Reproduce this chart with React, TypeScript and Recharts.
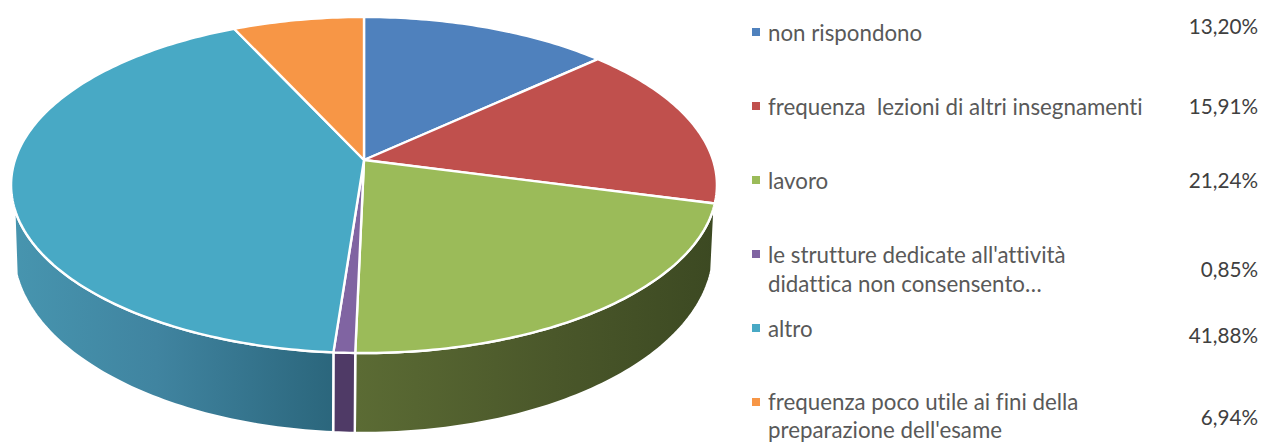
import { PieChart, Pie } from "recharts";

const categories = [
  ["non rispondono"],
  ["frequenza  lezioni di altri insegnamenti"],
  ["lavoro"],
  ["le strutture dedicate all'attività", "didattica non consensento…"],
  ["altro"],
  ["frequenza poco utile ai fini della", "preparazione dell'esame"],
];
const values = [13.2, 15.91, 21.24, 0.85, 41.88, 6.94];
const percentLabels = ["13,20%", "15,91%", "21,24%", "0,85%", "41,88%", "6,94%"];
const topColors = ["#4f81bd", "#c0504d", "#9bbb59", "#8064a2", "#48a9c5", "#f79646"];
const wallFills = ["#3a5f8c", "#8e3b39", "url(#wallGreen)", "#4f3a66", "url(#wallTeal)", "#b76e33"];

const labelTops = [18, 92, 166, 240, 314, 387.5];
const labelLineHeights = [29, 29, 29, 29, 29, 28];
const percentTops = [12, 92, 166, 255, 321, 403];

const data = values.map((value, i) => ({ name: categories[i].join(" "), value }));

// perspective of the 3D pie, fitted on the slice borders of the picture
const PERSPECTIVE = 0.1488;
const TILT = 0.4708;
const WALL_SCALE = 0.992;
const WALL_TILT = 0.5168;
const WALL_DROP = 62.8;
const WALL_SHIFT = -0.5;
const VISIBLE_FROM = 104.8;
const VISIBLE_TO = 254;

const project = (deg: number, cx: number, cy: number, r: number, tilt: number) => {
  const a = (deg * Math.PI) / 180;
  const u = Math.sin(a);
  const v = -Math.cos(a);
  const d = 1 - PERSPECTIVE * v;
  return [cx + (r * u) / d, cy + (r * tilt * v) / d];
};

const arcPoints = (from: number, to: number, cx: number, cy: number, r: number, tilt: number) => {
  const n = Math.max(2, Math.ceil(Math.abs(to - from)));
  const pts: number[][] = [];
  for (let i = 0; i <= n; i++) {
    pts.push(project(from + ((to - from) * i) / n, cx, cy, r, tilt));
  }
  return pts;
};

const toPath = (pts: number[][]) =>
  pts.map((p, i) => `${i ? "L" : "M"}${p[0].toFixed(2)} ${p[1].toFixed(2)}`).join(" ");

const TopSlice = (props: any) => {
  const { cx, cy, outerRadius, startAngle, endAngle, fill } = props;
  const pts = arcPoints(90 - startAngle, 90 - endAngle, cx, cy, outerRadius, TILT);
  return <path d={`M${cx} ${cy} ${toPath(pts).replace("M", "L")} Z`} fill={fill} stroke="#fff" strokeWidth={2.4} strokeLinejoin="round" />;
};

const WallSlice = (props: any) => {
  const { cx, cy, outerRadius, startAngle, endAngle, fill } = props;
  const from = Math.max(90 - startAngle, VISIBLE_FROM);
  const to = Math.min(90 - endAngle, VISIBLE_TO);
  if (to <= from) return <g />;
  const upper = arcPoints(from, to, cx, cy, outerRadius, TILT);
  const lower = arcPoints(to, from, cx + WALL_SHIFT, cy + WALL_DROP, outerRadius * WALL_SCALE, WALL_TILT);
  return <path d={`${toPath(upper)} ${toPath(lower).replace("M", "L")} Z`} fill={fill} stroke="#fff" strokeWidth={2.4} strokeLinejoin="round" />;
};

export default function App() {
  return (
    <div style={{ position: "absolute", left: 0, top: 0, width: 1264, height: 443, overflow: "hidden", background: "#fff", fontFamily: "Lato, sans-serif", fontVariantLigatures: "none" }}>
      <PieChart width={1264} height={443} margin={{ top: 0, right: 0, bottom: 0, left: 0 }}>
        <defs>
          <linearGradient id="wallGreen" gradientUnits="userSpaceOnUse" x1="357" y1="0" x2="716" y2="0">
            <stop offset="0%" stopColor="#5b6b34" />
            <stop offset="55%" stopColor="#4a572a" />
            <stop offset="100%" stopColor="#3c4922" />
          </linearGradient>
          <linearGradient id="wallTeal" gradientUnits="userSpaceOnUse" x1="12" y1="0" x2="334" y2="0">
            <stop offset="0%" stopColor="#4795af" />
            <stop offset="45%" stopColor="#4084a0" />
            <stop offset="100%" stopColor="#2b667c" />
          </linearGradient>
        </defs>
        <Pie
          data={data.map((d, i) => ({ ...d, fill: wallFills[i] }))}
          dataKey="value"
          cx={364}
          cy={160}
          outerRadius={349}
          startAngle={90}
          endAngle={-270}
          stroke="none"
          isAnimationActive={false}
          shape={WallSlice}
        />
        <Pie
          data={data.map((d, i) => ({ ...d, fill: topColors[i] }))}
          dataKey="value"
          cx={364}
          cy={160}
          outerRadius={349}
          startAngle={90}
          endAngle={-270}
          stroke="none"
          isAnimationActive={false}
          shape={TopSlice}
        />
      </PieChart>
      {categories.map((lines, i) => (
        <div key={i}>
          <div style={{ position: "absolute", left: 752, top: Math.round(labelTops[i]) + 10, width: 8, height: 8, background: topColors[i] }} />
          <div style={{ position: "absolute", left: 768, top: labelTops[i], fontSize: 22.3, lineHeight: `${labelLineHeights[i]}px`, color: "#595959", whiteSpace: "pre" }}>
            {lines.map((line) => (
              <div key={line}>{line}</div>
            ))}
          </div>
          <div style={{ position: "absolute", right: 6, top: percentTops[i], fontSize: 20.7, lineHeight: "29px", color: "#404040" }}>
            {percentLabels[i]}
          </div>
        </div>
      ))}
    </div>
  );
}
